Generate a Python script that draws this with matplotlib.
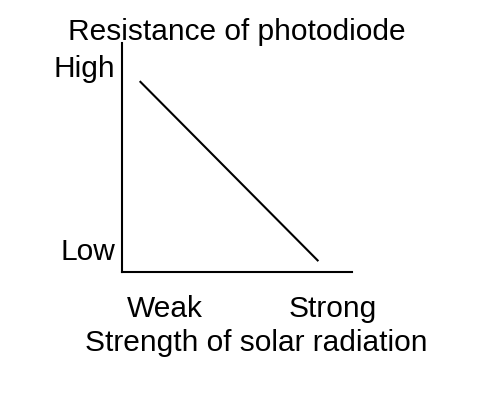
import matplotlib
matplotlib.use("Agg")
import matplotlib.pyplot as plt

# sketch graph: resistance falls as radiation gets stronger
strength = [0.08, 0.85]
resistance = [0.83, 0.05]

x_tick_pos = [0.187, 0.917]
x_tick_labels = ["Weak", "Strong"]
y_tick_pos = [0.10, 0.90]
y_tick_labels = ["Low", "High"]

plt.rcParams["font.family"] = ["Liberation Sans", "DejaVu Sans"]
fs = 21.5

fig = plt.figure(figsize=(4.96, 3.94), dpi=100)
ax = fig.add_axes([0.246, 0.310, 0.464, 0.581])

ax.plot(strength, resistance, color="black", linewidth=1.5)
ax.set_xlim(0, 1)
ax.set_ylim(0, 1)

ax.spines["top"].set_visible(False)
ax.spines["right"].set_visible(False)
ax.spines["left"].set_linewidth(1.5)
ax.spines["bottom"].set_linewidth(1.5)

ax.set_xticks(x_tick_pos)
ax.set_xticklabels(x_tick_labels, fontsize=fs)
ax.set_yticks(y_tick_pos)
ax.set_yticklabels(y_tick_labels, fontsize=fs)
ax.tick_params(axis="x", length=0, pad=17)
ax.tick_params(axis="y", length=0, pad=5)

fig.text(0.478, 0.898, "Resistance of photodiode", fontsize=fs,
         ha="center", va="baseline")
fig.text(0.516, 0.110, "Strength of solar radiation", fontsize=fs,
         ha="center", va="baseline")

fig.savefig("out.png", dpi=100, facecolor="white")
